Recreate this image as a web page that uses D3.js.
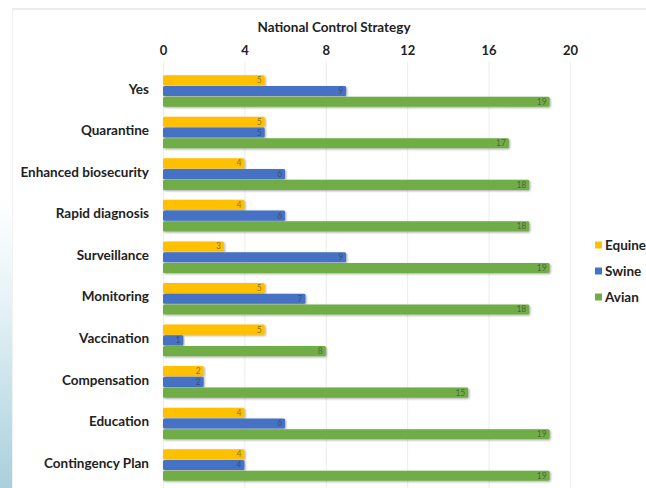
<!DOCTYPE html>
<html>
<head>
<meta charset="utf-8">
<script src="https://cdn.jsdelivr.net/npm/d3@7"></script>
<style>
  html, body { margin: 0; padding: 0; background: #fff; }
  svg { display: block; }
  text { font-family: Lato, "Open Sans", sans-serif; }
</style>
</head>
<body>
<script>
const categories = ["Yes", "Quarantine", "Enhanced biosecurity", "Rapid diagnosis", "Surveillance",
  "Monitoring", "Vaccination", "Compensation", "Education", "Contingency Plan"];
const seriesNames = ["Equine", "Swine", "Avian"];
const equine = [5, 5, 4, 4, 3, 5, 5, 2, 4, 4];
const swine  = [9, 5, 6, 6, 9, 7, 1, 2, 6, 4];
const avian  = [19, 17, 18, 18, 19, 18, 8, 15, 19, 19];
const xTicks = [0, 4, 8, 12, 16, 20];
const colors = ["#FFC000", "#4472C4", "#70AD47"];
const title = "National Control Strategy";

const W = 646, H = 488;
const seriesValues = [equine, swine, avian];

const svg = d3.select("body").append("svg").attr("width", W).attr("height", H);
const defs = svg.append("defs");

// left slide decoration gradient
const grad = defs.append("linearGradient").attr("id", "leftGrad")
  .attr("x1", 0).attr("y1", 0).attr("x2", 0).attr("y2", 1);
grad.append("stop").attr("offset", "0%").attr("stop-color", "#ffffff");
grad.append("stop").attr("offset", "35%").attr("stop-color", "#e6f3f7");
grad.append("stop").attr("offset", "100%").attr("stop-color", "#a9d0dc");
svg.append("rect").attr("x", 0).attr("y", 200).attr("width", 12).attr("height", H - 200)
  .attr("fill", "url(#leftGrad)");

// shadow filter
const f = defs.append("filter").attr("id", "shadow").attr("x", "-5%").attr("y", "-30%")
  .attr("width", "110%").attr("height", "170%");
f.append("feDropShadow").attr("dx", 1).attr("dy", 1).attr("stdDeviation", 0.8)
  .attr("flood-color", "#000").attr("flood-opacity", 0.35);

// top separator line
svg.append("line").attr("x1", 12).attr("x2", W).attr("y1", 9).attr("y2", 9)
  .attr("stroke", "#dcdcdc").attr("stroke-width", 1.2);
svg.append("line").attr("x1", 12.5).attr("x2", 12.5).attr("y1", 9).attr("y2", H)
  .attr("stroke", "#f0f0f0").attr("stroke-width", 1);

const x = d3.scaleLinear().domain([0, 20]).range([163, 570]);
const y = d3.scaleBand().domain(categories).range([70.2, 485.8])
  .paddingInner(0.24).paddingOuter(0.12);
const ys = d3.scaleBand().domain(seriesNames).range([0, y.bandwidth()]).paddingInner(0.06);

// gridlines
svg.append("g").selectAll("line").data(xTicks).join("line")
  .attr("x1", d => x(d) + 0.5).attr("x2", d => x(d) + 0.5)
  .attr("y1", 62).attr("y2", H)
  .attr("stroke", "#ececec").attr("stroke-width", 1);

// top axis
const axis = svg.append("g").attr("transform", "translate(0,55)")
  .call(d3.axisTop(x).tickValues(xTicks).tickSize(0).tickPadding(0));
axis.select(".domain").remove();
axis.selectAll("text").attr("font-size", 13).attr("font-weight", "bold").attr("fill", "#222")
  .attr("font-family", "Lato, sans-serif");

// title
svg.append("text").attr("x", 334).attr("y", 32).attr("text-anchor", "middle")
  .attr("font-size", 13.5).attr("font-weight", "bold").attr("fill", "#222").text(title);

// category labels
const yAxis = svg.append("g").attr("transform", "translate(149,0)")
  .call(d3.axisLeft(y).tickSize(0).tickPadding(0));
yAxis.select(".domain").remove();
yAxis.selectAll("text").attr("font-size", 13.5).attr("font-weight", "bold").attr("fill", "#222")
  .attr("font-family", "Lato, sans-serif").attr("dy", "0.2em");

// bars
const rows = categories.map((c, i) => ({ c, vals: seriesNames.map((s, j) => ({ s, j, v: seriesValues[j][i] })) }));
const g = svg.append("g").selectAll("g").data(rows).join("g")
  .attr("transform", d => `translate(0,${y(d.c)})`);
g.selectAll("rect").data(d => d.vals).join("rect")
  .attr("x", x(0)).attr("y", d => ys(d.s))
  .attr("width", d => x(d.v) - x(0)).attr("height", ys.bandwidth())
  .attr("rx", 1.5)
  .attr("fill", d => colors[d.j]).attr("filter", "url(#shadow)");
g.selectAll("text.val").data(d => d.vals).join("text").attr("class", "val")
  .attr("x", d => x(d.v) - 3).attr("y", d => ys(d.s) + ys.bandwidth() / 2)
  .attr("dy", "0.35em").attr("text-anchor", "end")
  .attr("font-size", 8.5).attr("fill", "#333").attr("fill-opacity", 0.6)
  .text(d => d.v);

// legend
const leg = svg.append("g").selectAll("g").data(seriesNames).join("g")
  .attr("transform", (d, i) => `translate(595,${245 + i * 26})`);
leg.append("rect").attr("x", 0).attr("y", -3.5).attr("width", 7).attr("height", 7)
  .attr("fill", (d, i) => colors[i]);
leg.append("text").attr("x", 10).attr("y", 0).attr("dy", "0.35em")
  .attr("font-size", 13.5).attr("font-weight", "bold").attr("fill", "#222").text(d => d);
</script>
</body>
</html>
